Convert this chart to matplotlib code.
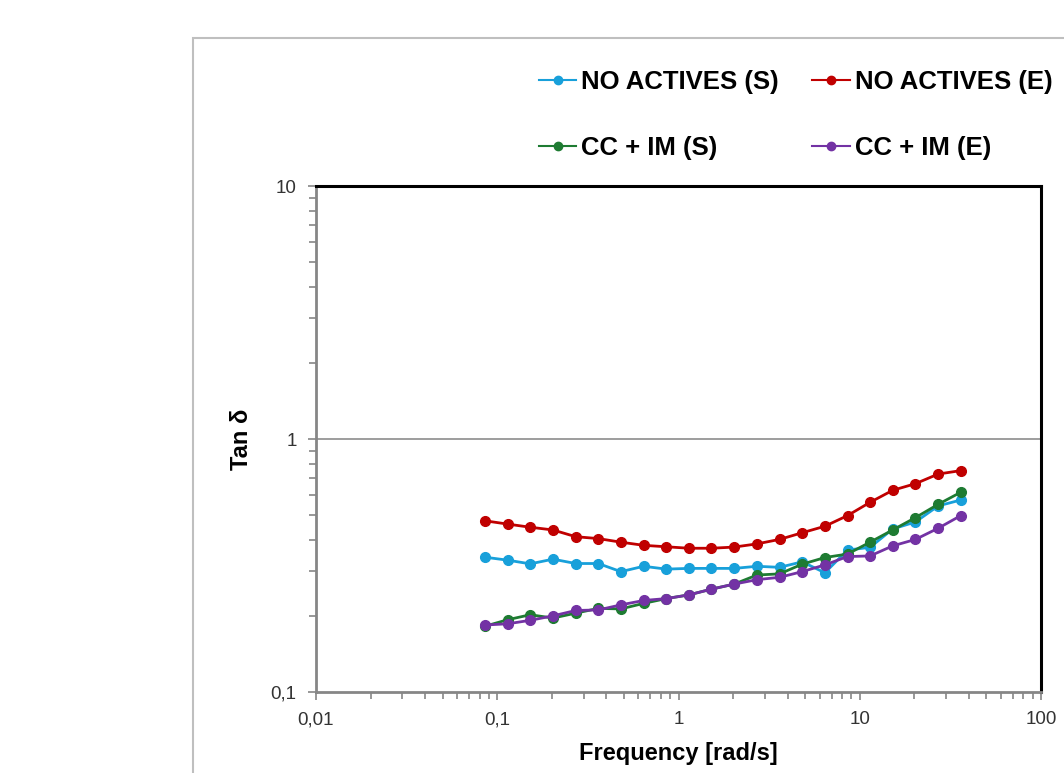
import matplotlib
matplotlib.use("Agg")
import matplotlib.pyplot as plt
from matplotlib.patches import Rectangle
from matplotlib.ticker import LogLocator, FixedLocator, FixedFormatter, NullFormatter

plt.rcParams["font.family"] = ["Liberation Sans", "DejaVu Sans"]

freq = [0.0856, 0.114, 0.152, 0.203, 0.271, 0.361, 0.481, 0.642, 0.856, 1.14, 1.52,
        2.03, 2.71, 3.61, 4.81, 6.42, 8.56, 11.4, 15.2, 20.3, 27.1, 36.1]

no_actives_s = [0.341, 0.332, 0.321, 0.335, 0.322, 0.322, 0.299, 0.314, 0.306, 0.308, 0.308,
                0.308, 0.314, 0.311, 0.327, 0.296, 0.364, 0.373, 0.441, 0.470, 0.544, 0.574]
no_actives_e = [0.475, 0.461, 0.448, 0.437, 0.411, 0.404, 0.391, 0.380, 0.375, 0.370, 0.370,
                0.374, 0.385, 0.401, 0.426, 0.452, 0.498, 0.562, 0.627, 0.666, 0.727, 0.750]
cc_im_s = [0.182, 0.193, 0.202, 0.196, 0.205, 0.214, 0.213, 0.224, 0.234, 0.242, 0.255,
           0.267, 0.290, 0.293, 0.320, 0.340, 0.351, 0.391, 0.437, 0.489, 0.552, 0.616]
cc_im_e = [0.184, 0.186, 0.192, 0.200, 0.210, 0.211, 0.221, 0.230, 0.234, 0.242, 0.255,
           0.267, 0.278, 0.284, 0.299, 0.318, 0.343, 0.345, 0.378, 0.401, 0.444, 0.498]

labels = ["NO ACTIVES (S)", "NO ACTIVES (E)", "CC + IM (S)", "CC + IM (E)"]
colors = ["#18A0DA", "#C00000", "#1E7B32", "#7332A4"]

x_ticks = [0.01, 0.1, 1, 10, 100]
x_tick_labels = ["0,01", "0,1", "1", "10", "100"]
y_ticks = [0.1, 1, 10]
y_tick_labels = ["0,1", "1", "10"]

fig = plt.figure(figsize=(10.64, 7.73), dpi=100)

# outer chart-area border (cut off on right and bottom)
fig.patches.append(Rectangle((193 / 1064, -0.1), 1.0, 1 - 38 / 773 + 0.1,
                             transform=fig.transFigure, fill=False,
                             edgecolor="#BFBFBF", linewidth=1.5))

ax = fig.add_axes([316 / 1064, 1 - 692 / 773, 725 / 1064, 506 / 773])

series = [no_actives_s, no_actives_e, cc_im_s, cc_im_e]
handles = []
for values, label, color in zip(series, labels, colors):
    h, = ax.plot(freq, values, color=color, marker="o", markersize=7,
                 linewidth=2, label=label)
    handles.append(h)

ax.set_xscale("log")
ax.set_yscale("log")
ax.set_xlim(0.01, 100)
ax.set_ylim(0.1, 10)

ax.xaxis.set_major_locator(FixedLocator(x_ticks))
ax.xaxis.set_major_formatter(FixedFormatter(x_tick_labels))
ax.yaxis.set_major_locator(FixedLocator(y_ticks))
ax.yaxis.set_major_formatter(FixedFormatter(y_tick_labels))
ax.xaxis.set_minor_locator(LogLocator(base=10, subs=range(2, 10)))
ax.yaxis.set_minor_locator(LogLocator(base=10, subs=range(2, 10)))
ax.xaxis.set_minor_formatter(NullFormatter())
ax.yaxis.set_minor_formatter(NullFormatter())

ax.axhline(1, color="#8C8C8C", linewidth=1.2, zorder=0)

for side in ["top", "right"]:
    ax.spines[side].set_color("black")
    ax.spines[side].set_linewidth(2.2)
for side in ["left", "bottom"]:
    ax.spines[side].set_color("#868686")
    ax.spines[side].set_linewidth(2)

ax.tick_params(which="major", direction="out", length=6, width=1.2, color="#868686",
               labelsize=13.5, pad=8, labelcolor="#333333")
ax.tick_params(which="minor", direction="out", length=5, width=1.2, color="#868686")

ax.set_xlabel("Frequency [rad/s]", fontsize=17, fontweight="bold", labelpad=10)
ax.set_ylabel("Tan δ", fontsize=17, fontweight="bold", labelpad=13)

# legend fills column-wise, so order handles to get row-wise layout
order = [0, 2, 1, 3]
fig.legend(handles=[handles[i] for i in order], labels=[labels[i] for i in order],
           ncol=2, frameon=False,
           loc="upper left", bbox_to_anchor=(539 / 1064, 1 - 70 / 773),
           prop={"size": 18.5, "weight": "bold"}, handlelength=1.45,
           handletextpad=0.2, columnspacing=1.3, labelspacing=1.65,
           borderaxespad=0, borderpad=0)

for h in fig.legends[0].legend_handles:
    h.set_markersize(6)
    h.set_linewidth(1.5)

fig.savefig("out.png", dpi=100)
